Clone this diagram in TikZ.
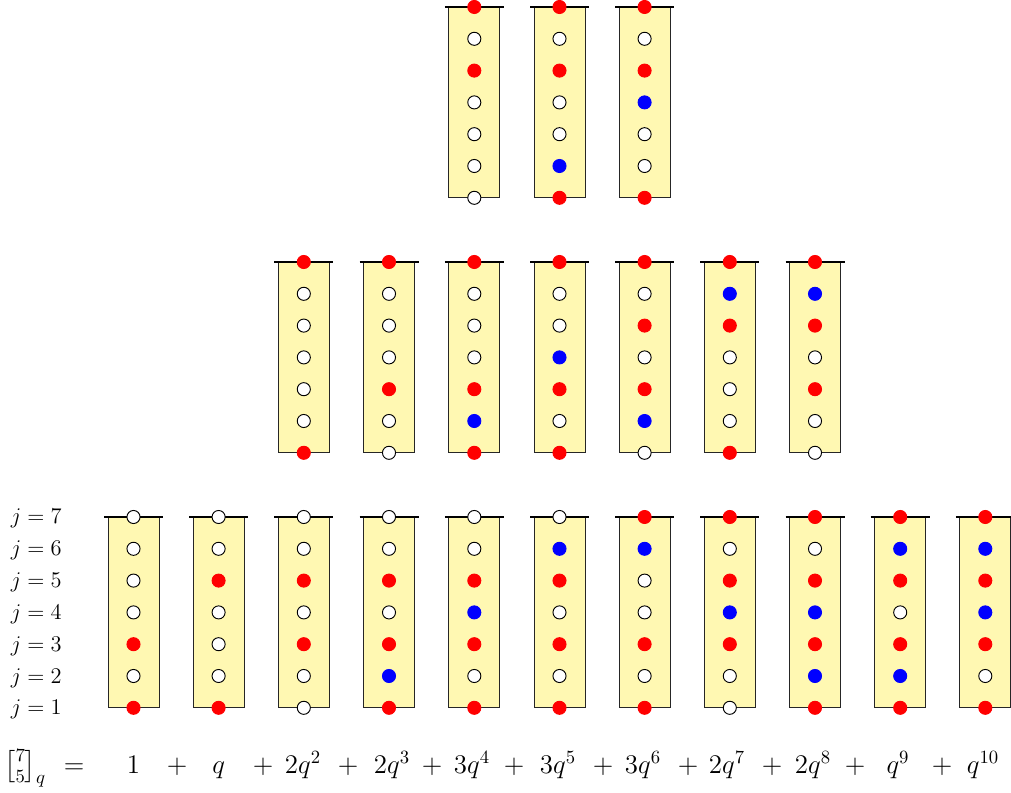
\documentclass[tikz,border=0pt]{standalone}
\usepackage{amsmath}
\definecolor{stripyellow}{RGB}{255,248,178}
\colorlet{cR}{red}\colorlet{cW}{white}\colorlet{cB}{blue}
\colorlet{eR}{red}\colorlet{eW}{black}\colorlet{eB}{blue}
\newcommand\mystrip[4]{%
  \fill[stripfill] ({#2-25.5},{#3}) rectangle ({#2+25.5},{#3+190.8});
  \draw[stripline] ({#2-25.5},{#3}) -- ({#2-25.5},{#3+190.8}) -- ({#2+25.5},{#3+190.8}) -- ({#2+25.5},{#3});
  \draw[topbar] ({#2-29.5},{#3}) -- ({#2+29.5},{#3});
  \foreach \c [count=\i from 0] in {#4} {\node[dot, fill=c\c, draw=e\c] (#1-\i) at ({#2},{#3+31.8*\i}) {};}
}
\begin{document}
\begin{tikzpicture}[x=0.535pt,y=-0.535pt,
  stripfill/.style={fill=stripyellow},
  stripline/.style={draw=black!85, line width=0.45pt},
  topbar/.style={draw=black, line width=1.2pt},
  dot/.style={circle, minimum size=7pt, inner sep=0pt, line width=0.5pt},
  lbl/.style={anchor=base east, inner sep=0pt, font=\large},
  term/.style={anchor=base, inner sep=0pt, font=\fontsize{14}{17}\selectfont}]
\useasboundingbox (0,0) rectangle (1011,793);
% top row
\mystrip{t1}{474.3}{7}{R,W,R,W,W,W,W}
\mystrip{t2}{559.5}{7}{R,W,R,W,W,B,R}
\mystrip{t3}{644.6}{7}{R,W,R,B,W,W,R}
% middle row
\mystrip{m1}{303.8}{262}{R,W,W,W,W,W,R}
\mystrip{m2}{389.0}{262}{R,W,W,W,R,W,W}
\mystrip{m3}{474.3}{262}{R,W,W,W,R,B,R}
\mystrip{m4}{559.5}{262}{R,W,W,B,R,W,R}
\mystrip{m5}{644.6}{262}{R,W,R,W,R,B,W}
\mystrip{m6}{729.8}{262}{R,B,R,W,W,W,R}
\mystrip{m7}{815.0}{262}{R,B,R,W,R,W,W}
% bottom row
\mystrip{b1}{133.5}{517}{W,W,W,W,R,W,R}
\mystrip{b2}{218.6}{517}{W,W,R,W,W,W,R}
\mystrip{b3}{303.8}{517}{W,W,R,W,R,W,W}
\mystrip{b4}{389.0}{517}{W,W,R,W,R,B,R}
\mystrip{b5}{474.3}{517}{W,W,R,B,R,W,R}
\mystrip{b6}{559.5}{517}{W,B,R,W,R,W,R}
\mystrip{b7}{644.6}{517}{R,B,W,W,R,W,R}
\mystrip{b8}{729.8}{517}{R,W,R,B,R,W,W}
\mystrip{b9}{815.0}{517}{R,W,R,B,R,B,R}
\mystrip{b10}{900.2}{517}{R,B,R,W,R,B,R}
\mystrip{b11}{985.3}{517}{R,B,R,B,R,W,R}
% j labels
\foreach \j [count=\k from 0] in {7,6,5,4,3,2,1}
  \node[lbl] (j\j) at (62,{524+31.8*\k}) {$j=\j$};
% equation
\node[term, anchor=base west] (binom) at (4,773) {$\genfrac{[}{]}{0pt}{1}{7}{5}_q$};
\node[term] (eq) at (74,773) {$=$};
\node[term] (t0) at (133.5,773) {$1$};
\node[term] (p1) at (177,773) {$+$};
\node[term] (t1) at (218.6,773) {$q$};
\node[term] (p2) at (263,773) {$+$};
\node[term] (t2) at (303,773) {$2q^2$};
\node[term] (p3) at (348,773) {$+$};
\node[term] (t3) at (392,773) {$2q^3$};
\node[term] (p4) at (432,773) {$+$};
\node[term] (t4) at (472,773) {$3q^4$};
\node[term] (p5) at (514,773) {$+$};
\node[term] (t5) at (558,773) {$3q^5$};
\node[term] (p6) at (603,773) {$+$};
\node[term] (t6) at (643,773) {$3q^6$};
\node[term] (p7) at (688,773) {$+$};
\node[term] (t7) at (727,773) {$2q^7$};
\node[term] (p8) at (772,773) {$+$};
\node[term] (t8) at (813,773) {$2q^8$};
\node[term] (p9) at (855,773) {$+$};
\node[term] (t9) at (898,773) {$q^9$};
\node[term] (p10) at (942,773) {$+$};
\node[term] (t10) at (983,773) {$q^{10}$};
\end{tikzpicture}
\end{document}
